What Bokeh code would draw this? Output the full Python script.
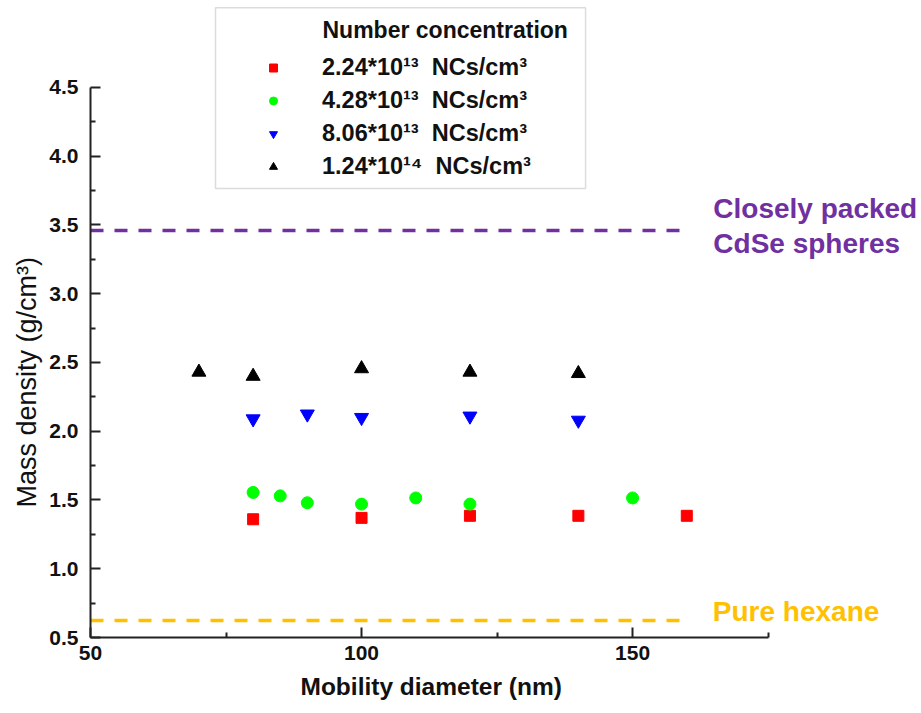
from bokeh.plotting import figure
from bokeh.models import (Legend, LegendItem, Label, BoxAnnotation, FixedTicker, Range1d,
                          PrintfTickFormatter, Title)
from bokeh.embed import file_html
from bokeh.resources import INLINE

# ---------------- data ----------------
red_x = [80, 100, 120, 140, 160]
red_y = [1.36, 1.37, 1.385, 1.385, 1.385]
green_x = [80, 85, 90, 100, 110, 120, 150]
green_y = [1.555, 1.53, 1.48, 1.47, 1.515, 1.47, 1.515]
blue_x = [80, 90, 100, 120, 140]
blue_y = [2.09, 2.125, 2.10, 2.11, 2.08]
black_x = [70, 80, 100, 120, 140]
black_y = [2.43, 2.40, 2.455, 2.43, 2.42]

series_labels = ["2.24*10\u00b9\u00b3\u00a0 NCs/cm\u00b3",
                 "4.28*10\u00b9\u00b3\u00a0 NCs/cm\u00b3",
                 "8.06*10\u00b9\u00b3\u00a0 NCs/cm\u00b3",
                 "1.24*10\u00b9\u2074\u00a0 NCs/cm\u00b3"]
legend_title = "Number concentration"

ref_values = [3.46, 0.624]
ref_x_start = [50, 50]
ref_x_end = [160.5, 160.5]
ref_colors = ["#7030A0", "#FFC000"]

x_ticks = [50, 100, 150]
x_minor = [75, 125, 175]
y_ticks = [0.5, 1.0, 1.5, 2.0, 2.5, 3.0, 3.5, 4.0, 4.5]
y_minor = [0.75, 1.25, 1.75, 2.25, 2.75, 3.25, 3.75, 4.25]

x_title = "Mobility diameter (nm)"
y_title = "Mass density (g/cm\u00b3)"

FONT = "Liberation Sans"

p = figure(width=921, height=713,
           x_range=Range1d(50, 203.3), y_range=Range1d(0.5, 5.1327),
           output_backend="svg", toolbar_location=None,
           min_border_left=90, min_border_right=0, min_border_top=0, min_border_bottom=76)
p.outline_line_color = None
p.xgrid.visible = False
p.ygrid.visible = False

# axes
for ax in (p.xaxis[0], p.yaxis[0]):
    ax.axis_line_width = 2
    ax.axis_line_color = "#222222"
    ax.major_tick_line_width = 2
    ax.major_tick_line_color = "#222222"
    ax.minor_tick_line_width = 2
    ax.minor_tick_line_color = "#222222"
    ax.major_tick_in = 10
    ax.major_tick_out = 0
    ax.minor_tick_in = 5
    ax.minor_tick_out = 0
    ax.major_label_text_font = FONT
    ax.major_label_text_font_style = "bold"
    ax.major_label_text_font_size = "21px"
    ax.major_label_text_color = "#111111"

p.xaxis.ticker = FixedTicker(ticks=x_ticks, minor_ticks=x_minor)
p.yaxis.ticker = FixedTicker(ticks=y_ticks, minor_ticks=y_minor)
p.yaxis.formatter = PrintfTickFormatter(format="%.1f")
p.xaxis.bounds = (50, 175)
p.yaxis.bounds = (0.5, 4.5)
p.xaxis.major_label_standoff = 8
p.yaxis.major_label_standoff = 12

# axis titles positioned along the axis bounds
p.add_layout(Title(text=x_title, align="left", offset=210, standoff=16,
                   text_font=FONT, text_font_style="bold", text_font_size="24.5px",
                   text_color="#111111"), "below")
p.add_layout(Title(text=y_title, align="left", offset=130, standoff=10,
                   text_font=FONT, text_font_style="normal", text_font_size="27px",
                   text_color="#111111"), "left")

# reference lines
p.segment(x0=ref_x_start, x1=ref_x_end, y0=ref_values, y1=ref_values,
          line_color=ref_colors, line_width=3.5, line_dash="13 11")

p.add_layout(Label(x=164.9, y=3.62, text="Closely packed", text_baseline="middle",
                   text_font=FONT, text_font_style="bold", text_font_size="28px",
                   text_color=ref_colors[0]))
p.add_layout(Label(x=164.9, y=3.365, text="CdSe spheres", text_baseline="middle",
                   text_font=FONT, text_font_style="bold", text_font_size="28px",
                   text_color=ref_colors[0]))
p.add_layout(Label(x=164.8, y=0.69, text="Pure hexane", text_baseline="middle",
                   text_font=FONT, text_font_style="bold", text_font_size="28px",
                   text_color=ref_colors[1]))

# data series
r_red = p.scatter(red_x, red_y, marker="square", size=11, fill_color="#FF0000", line_color="#FF0000")
r_green = p.scatter(green_x, green_y, marker="circle", size=12, fill_color="#00FF00", line_color="#00FF00")
r_blue = p.scatter(blue_x, blue_y, marker="inverted_triangle", size=14, fill_color="#0000FF", line_color="#0000FF")
r_black = p.scatter(black_x, black_y, marker="triangle", size=14, fill_color="#000000", line_color="#000000")

# legend box + title
p.add_layout(BoxAnnotation(left=73.06, right=141.33, bottom=3.765, top=5.08,
                           fill_color="white", fill_alpha=1.0,
                           line_color="#8c8c8c", line_width=1.5))
p.add_layout(Label(x=92.8, y=4.915, text=legend_title, text_baseline="middle",
                   text_font=FONT, text_font_style="bold", text_font_size="23px",
                   text_color="#111111"))

legend = Legend(items=[LegendItem(label=series_labels[0], renderers=[r_red]),
                       LegendItem(label=series_labels[1], renderers=[r_green]),
                       LegendItem(label=series_labels[2], renderers=[r_blue]),
                       LegendItem(label=series_labels[3], renderers=[r_black])],
                location=(173, 457), border_line_alpha=0, background_fill_alpha=0,
                padding=0, margin=0, spacing=6, glyph_width=20, glyph_height=27,
                label_height=27, label_standoff=39,
                label_text_font=FONT, label_text_font_style="bold",
                label_text_font_size="23.5px", label_text_color="#111111")
p.add_layout(legend)

open("out.html", "w").write(file_html(p, INLINE))
